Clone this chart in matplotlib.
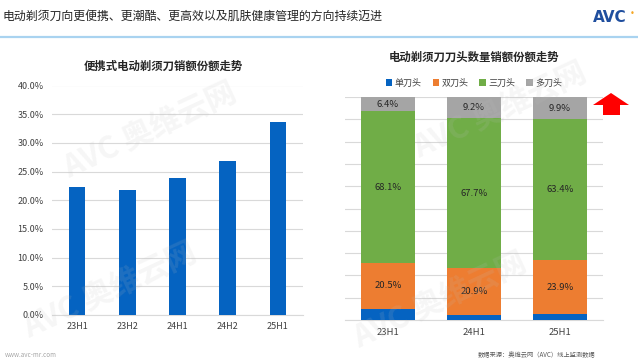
import numpy as np
import matplotlib
matplotlib.use("Agg")
import matplotlib.pyplot as plt
from matplotlib.patches import Polygon
from matplotlib.lines import Line2D

plt.rcParams['font.family'] = ['Noto Sans CJK SC', 'DejaVu Sans']

# 左图：便携式电动剃须刀销额份额
periods = ['23H1', '23H2', '24H1', '24H2', '25H1']
portable_share = [22.3, 21.7, 23.9, 26.8, 33.6]

# 右图：刀头数量销额份额
head_periods = ['23H1', '24H1', '25H1']
head_names = ['单刀头', '双刀头', '三刀头', '多刀头']
single_head = [5.0, 2.2, 2.8]
double_head = [20.5, 20.9, 23.9]
triple_head = [68.1, 67.7, 63.4]
multi_head = [6.4, 9.2, 9.9]

colors = ['#0563C1', '#ED7D31', '#70AD47', '#A5A5A5']
grid_c = '#D9D9D9'
txt_c = '#404040'

W, H = 638, 364
fig = plt.figure(figsize=(W / 100, H / 100), dpi=100)

def fx(px):
    return px / W

def fy(py):
    return 1 - py / H

# 页眉
fig.text(fx(3), fy(16), '电动剃须刀向更便携、更潮酷、更高效以及肌肤健康管理的方向持续迈进',
         fontsize=8.6, color='#262626', va='center', ha='left')
fig.add_artist(Line2D([0, 1], [fy(36.5), fy(36.5)], color='#A9D3F0', lw=1.6))
fig.text(fx(593), fy(18), 'AVC', fontsize=11, fontweight='heavy', color='#1F4E9E',
         va='center', ha='left', family='DejaVu Sans')
fig.text(fx(632), fy(14), '•', fontsize=6, color='#F5A623', va='center', ha='center',
         family='DejaVu Sans')

# 水印
for (x, y) in [(150, 130), (110, 290), (500, 110), (440, 300)]:
    fig.text(fx(x), fy(y), 'AVC 奥维云网', fontsize=22, fontweight='bold', color='#BFBFBF',
             alpha=0.14, rotation=25, ha='center', va='center')

# ---- 左图
ax1 = fig.add_axes([fx(52), fy(315), fx(303) - fx(52), fy(85.5) - fy(315)])
x1 = np.arange(len(periods))
ax1.bar(x1, portable_share, width=0.33, color=colors[0], zorder=3)
ax1.set_xlim(-0.5, len(periods) - 0.5)
ax1.set_ylim(0, 40)
ax1.set_yticks(np.arange(0, 41, 5))
ax1.set_yticklabels([f'{v:.1f}%' for v in np.arange(0, 41, 5)])
ax1.set_xticks(x1)
ax1.set_xticklabels(periods)
ax1.yaxis.grid(True, color=grid_c, lw=0.8, zorder=0)
for s in ['top', 'right', 'left']:
    ax1.spines[s].set_visible(False)
ax1.spines['bottom'].set_color(grid_c)
ax1.tick_params(axis='both', length=0, labelsize=6.5, labelcolor=txt_c)
ax1.tick_params(axis='y', pad=6)
ax1.tick_params(axis='x', pad=5)
fig.text(fx(163), fy(66), '便携式电动剃须刀销额份额走势', fontsize=8.2, fontweight='bold',
         color='#262626', ha='center', va='center')

# ---- 右图
ax2 = fig.add_axes([fx(345), fy(320), fx(603) - fx(345), fy(97) - fy(320)])
x2 = np.arange(len(head_periods))
series = [single_head, double_head, triple_head, multi_head]
bottom = np.zeros(len(head_periods))
for vals, name, c in zip(series, head_names, colors):
    ax2.bar(x2, vals, width=0.63, bottom=bottom, color=c, label=name, zorder=3)
    if name != '单刀头':
        for xi, b, v in zip(x2, bottom, vals):
            ax2.text(xi, b + v / 2, f'{v:.1f}%', ha='center', va='center',
                     fontsize=6.8, color='#262626', zorder=4)
    bottom += np.array(vals)
ax2.set_xlim(-0.5, len(head_periods) - 0.5)
ax2.set_ylim(0, 100)
ax2.set_yticks(np.arange(0, 101, 10))
ax2.set_yticklabels([])
ax2.set_xticks(x2)
ax2.set_xticklabels(head_periods)
ax2.yaxis.grid(True, color=grid_c, lw=0.8, zorder=0)
for s in ['top', 'right', 'left']:
    ax2.spines[s].set_visible(False)
ax2.spines['bottom'].set_color(grid_c)
ax2.tick_params(axis='both', length=0, labelsize=6.8, labelcolor=txt_c)
ax2.tick_params(axis='x', pad=6)
ax2.legend(loc='center', bbox_to_anchor=(0.5, (fy(83) - fy(320)) / (fy(97) - fy(320))),
           ncol=4, frameon=False, fontsize=6.5, handlelength=0.7, handleheight=0.7,
           handletextpad=0.3, columnspacing=1.2, labelcolor=txt_c)
fig.text(fx(474), fy(57), '电动剃须刀刀头数量销额份额走势', fontsize=8.2, fontweight='bold',
         color='#262626', ha='center', va='center')

# 红色箭头
arrow = [(593, 105), (611, 93), (629, 105), (620, 105), (620, 115), (603, 115), (603, 105)]
fig.add_artist(Polygon([(fx(a), fy(b)) for a, b in arrow], closed=True,
                       facecolor='#FF0000', edgecolor='none'))

# 页脚
fig.text(fx(5), fy(355), 'www.avc-mr.com', fontsize=4.5, color='#A6A6A6', va='center')
fig.text(fx(478), fy(355), '数据来源：奥维云网（AVC）线上监测数据', fontsize=4.5,
         color='#595959', va='center')

fig.savefig('out.png', dpi=100)
